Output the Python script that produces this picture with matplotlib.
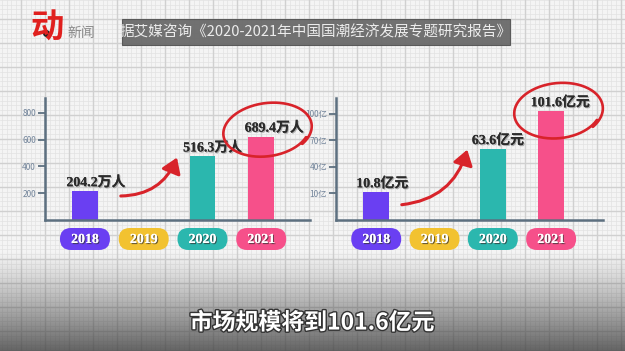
import numpy as np
import matplotlib
matplotlib.use("Agg")
import matplotlib.pyplot as plt
import matplotlib.patheffects as pe
from matplotlib.patches import FancyBboxPatch, Rectangle, FancyArrowPatch

plt.rcParams['font.family'] = ['Noto Sans CJK SC', 'DejaVu Sans']

years = ["2018", "2019", "2020", "2021"]
year_colors = ["#6a3ff2", "#f2c230", "#2bb7ae", "#f6508a"]

# left panel: users (万人), bar heights as drawn against the axis
users_bar = [215, np.nan, 474, 622]
users_text = ["204.2万人", "", "516.3万人", "689.4万人"]
users_ticks = [200, 400, 600, 800]
users_ticklabels = ["200", "400", "600", "800"]

# right panel: market size (亿元)
market_bar = [11, np.nan, 60, 103]
market_text = ["10.8亿元", "", "63.6亿元", "101.6亿元"]
market_ticks = [10, 40, 70, 100]
market_ticklabels = ["10亿", "40亿", "70亿", "100亿"]

title = "据艾媒咨询《2020-2021年中国国潮经济发展专题研究报告》"
subtitle = "市场规模将到101.6亿元"

W, H = 625, 351
RED = "#d8232a"
AXIS = "#5d7080"
serif = ['Liberation Serif', 'Noto Sans CJK SC']

fig = plt.figure(figsize=(6.25, 3.51), dpi=100)

# grid-paper background
bg = fig.add_axes([0, 0, 1, 1], zorder=0)
bg.set_xlim(0, W)
bg.set_ylim(H, 0)
bg.axis("off")
bg.add_patch(Rectangle((0, 0), W, H, color="#f4f4f4", zorder=0))
for x in np.arange(-3, W, 4.8):
    bg.axvline(x, color="#e2e2e2", lw=0.5, zorder=1)
for y in np.arange(-5, H, 4.8):
    bg.axhline(y, color="#e2e2e2", lw=0.5, zorder=1)
for x in np.arange(-3, W, 24):
    bg.axvline(x, color="#d0d0d0", lw=1.0, zorder=2)
for y in np.arange(-5, H, 24):
    bg.axhline(y, color="#d0d0d0", lw=1.0, zorder=2)


def make_panel(x0, x1, y_top, y_bot, ylim, xlim):
    ax = fig.add_axes([x0 / W, (H - y_bot) / H, (x1 - x0) / W, (y_bot - y_top) / H], zorder=1)
    ax.patch.set_alpha(0)
    ax.set_xlim(*xlim)
    ax.set_ylim(*ylim)
    for s in ["top", "right"]:
        ax.spines[s].set_visible(False)
    for s in ["left", "bottom"]:
        ax.spines[s].set_color(AXIS)
        ax.spines[s].set_linewidth(1.8)
    ax.set_xticks([])
    ax.tick_params(axis="y", length=5, width=1.3, color=AXIS, labelsize=6,
                   labelcolor="#72849a", pad=1.5)
    return ax


ax1 = make_panel(45, 310, 98, 220, (0, 910), (-0.68, 3.83))
ax2 = make_panel(336, 603, 98, 220, (-20.5, 118), (-0.69, 3.89))

fg = fig.add_axes([0, 0, 1, 1], zorder=3)
fg.set_xlim(0, W)
fg.set_ylim(H, 0)
fg.axis("off")
fg.patch.set_alpha(0)


def to_px(ax, x, y):
    d = ax.transData.transform((x, y))
    return fg.transData.inverted().transform(d)


label_shadow = [pe.withSimplePatchShadow(offset=(0.8, -0.8), shadow_rgbFace="#9a9a9a", alpha=0.8), pe.Normal()]
pill_shadow = [pe.withSimplePatchShadow(offset=(0.8, -0.8), shadow_rgbFace="#333333", alpha=0.7), pe.Normal()]

for ax, bars, texts, ticks, tlabels, offs in [
        (ax1, users_bar, users_text, users_ticks, users_ticklabels, [11, 0, 10, 13]),
        (ax2, market_bar, market_text, market_ticks, market_ticklabels, [6, 0, 5, 9])]:
    ymin = ax.get_ylim()[0]
    idx = np.arange(len(years))
    ax.bar(idx, np.array(bars) - ymin, bottom=ymin, width=0.44, color=year_colors)
    ax.set_yticks(ticks)
    ax.set_yticklabels(tlabels)
    for i, (h, t) in enumerate(zip(bars, texts)):
        if t:
            ax.annotate(t, (i, h), xytext=(offs[i], 2), textcoords="offset pixels",
                        ha="center", va="bottom", fontsize=10, fontweight="bold",
                        family=serif, color="#2b2b2b", path_effects=label_shadow,
                        annotation_clip=False)
    # year pills under the axis
    for i, yr in enumerate(years):
        px, _ = to_px(ax, i, ymin)
        fg.add_patch(FancyBboxPatch((px - 25, 228), 50, 22,
                                    boxstyle="round,pad=0,rounding_size=11",
                                    fc=year_colors[i], ec="none"))
        fg.text(px, 239.5, yr, ha="center", va="center", color="white", fontsize=10,
                fontweight="bold", family=serif, path_effects=pill_shadow)


# hand-drawn red circles
def scribble(cx, cy, a, b, rot):
    t = np.linspace(0, 2.08 * np.pi, 200)
    grow = 1 + 0.05 * t / (2 * np.pi)
    x = a * grow * np.cos(t + 0.5)
    y = b * grow * np.sin(t + 0.5)
    r = np.deg2rad(rot)
    fg.plot(cx + x * np.cos(r) - y * np.sin(r), cy + x * np.sin(r) + y * np.cos(r),
            color=RED, lw=1.9, solid_capstyle="round")


scribble(267, 130, 43, 26, -8)
scribble(558, 111, 43, 27, -6)

# curved arrows
for start, end in [((118, 196), (178, 155)), ((399, 205), (468, 147))]:
    fg.add_patch(FancyArrowPatch(start, end, connectionstyle="arc3,rad=0.35",
                                 arrowstyle="-|>,head_length=6,head_width=4",
                                 color=RED, lw=2.2, mutation_scale=1.5))

# bottom dark gradient
grad = np.linspace(0, 1, 100) ** 1.2
img = np.zeros((100, 2, 4))
img[..., :3] = 0.27
img[..., 3] = (grad * 0.82)[:, None]
fg.imshow(img, extent=(0, W, H, 250), aspect="auto", zorder=0)

fg.text(312, 323, subtitle, ha="center", va="center", color="white", fontsize=16.5,
        fontweight="bold", path_effects=[pe.withStroke(linewidth=2, foreground="#333333")])

# title banner
fg.add_patch(Rectangle((122, 19), 388, 26, fc="#6a6a6a", ec="#555555", lw=0.8, alpha=0.95))
fg.text(316, 32, title, ha="center", va="center", color="#ececec", fontsize=10.5)

# logo
fg.text(47, 28, "动", ha="center", va="center", color="#e0201e", fontsize=24,
        fontweight="heavy", style="italic")
fg.plot([46], [33], "o", ms=4, color="#222222")
fg.text(81, 33, "新闻", ha="center", va="center", color="#8a8a8a", fontsize=10)

fig.savefig("out.png", dpi=100)
